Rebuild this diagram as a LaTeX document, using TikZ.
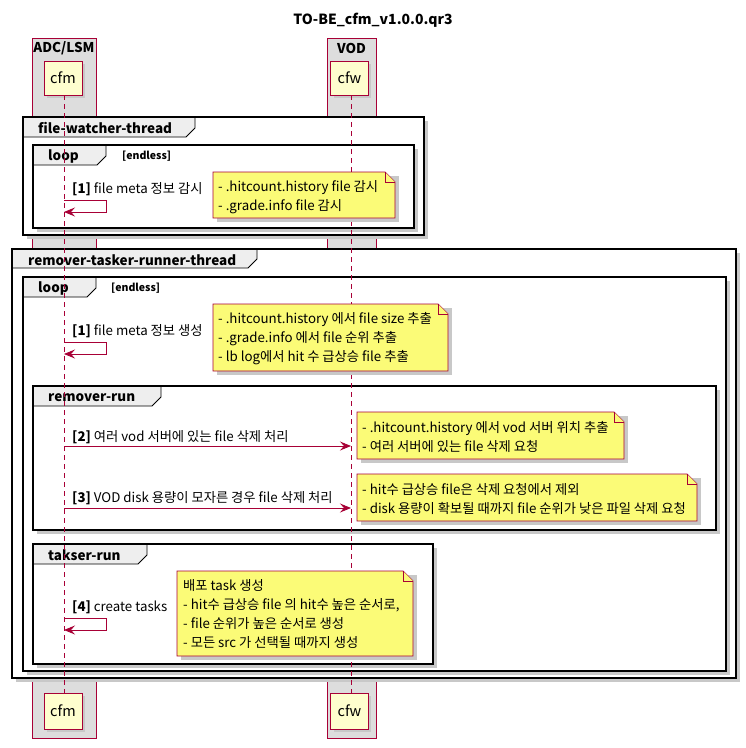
\documentclass[tikz,border=0pt]{standalone}
\usepackage{fontspec}
\setmainfont{Noto Sans CJK KR}
\usetikzlibrary{arrows.meta}
\definecolor{crim}{HTML}{A80036}
\definecolor{partfill}{HTML}{FEFECE}
\definecolor{notefill}{HTML}{FBFB77}
\definecolor{grpfill}{HTML}{DDDDDD}
\definecolor{tabfill}{HTML}{EEEEEE}
\definecolor{shadowc}{HTML}{C8C8C8}
\tikzset{
  grp/.style={fill=grpfill,draw=crim,line width=0.8pt},
  grplabel/.style={font=\fontsize{13.5}{15}\selectfont\bfseries,inner sep=0pt},
  part/.style={draw=crim,fill=partfill,line width=1pt,minimum width=38pt,minimum height=34pt,inner sep=0pt,font=\fontsize{14.5}{16}\selectfont},
  frm/.style={draw=black,line width=1.6pt},
  tabst/.style={fill=tabfill,draw=black,line width=0.8pt},
  frmlabel/.style={font=\fontsize{13.5}{15}\selectfont\bfseries,inner sep=0pt,anchor=west},
  guard/.style={font=\fontsize{10.5}{12}\selectfont\bfseries,inner sep=0pt,anchor=west},
  life/.style={draw=crim,line width=0.7pt,dash pattern=on 5pt off 4pt},
  msg/.style={draw=crim,line width=0.9pt,-{Stealth[length=11pt,width=9pt,inset=4pt]}},
  msglabel/.style={font=\fontsize{13.3}{15}\selectfont,inner sep=0pt,anchor=west},
  notest/.style={fill=notefill,draw=crim,line width=0.8pt},
  notetext/.style={font=\fontsize{13.3}{19}\selectfont,inner sep=0pt,anchor=west,align=left},
  shd/.style={fill=shadowc}
}
\newcommand{\umlframe}[6]{%
  \fill[shd] (#1+4,#2+4) rectangle (#3+4,#4+4);
  \fill[white] (#1,#2) rectangle (#3,#4);
  \draw[tabst] (#1,#2) -- (#5,#2) -- (#5,#6-9) -- (#5-9,#6) -- (#1,#6) -- cycle;
  \draw[frm] (#1,#2) rectangle (#3,#4);
}
\newcommand{\umlnote}[4]{%
  \fill[shd] (#1+4,#2+4) rectangle (#3+4,#4+4);
  \draw[notest] (#1,#2) -- (#3-10,#2) -- (#3,#2+10) -- (#3,#4) -- (#1,#4) -- cycle;
  \draw[notest] (#3-10,#2) -- (#3-10,#2+10) -- (#3,#2+10);
}
\begin{document}
\begin{tikzpicture}[x=1pt,y=-1pt]
\useasboundingbox (0,0) rectangle (746,748);
\fill[white] (0,0) rectangle (746,748);
% title
\node[font=\fontsize{14}{16}\selectfont\bfseries,inner sep=0pt] (title) at (373,20) {TO-BE\_cfm\_v1.0.0.qr3};
% groups
\draw[grp] (32,38) rectangle (96,738);
\draw[grp] (327,38) rectangle (376,738);
\node[grplabel] (g1) at (64,48) {ADC/LSM};
\node[grplabel] (g2) at (351.5,48) {VOD};
% participants
\fill[shd] (47,64) rectangle (85,98);
\fill[shd] (334,64) rectangle (371,98);
\fill[shd] (47,696) rectangle (85,732);
\fill[shd] (334,696) rectangle (371,732);
\node[part] (cfmT) at (63,78) {cfm};
\node[part] (cfwT) at (349.5,78) {cfw};
\node[part,minimum height=36pt] (cfmB) at (63,711) {cfm};
\node[part,minimum height=36pt] (cfwB) at (349.5,711) {cfw};
% frames
\umlframe{23}{117}{424}{235}{195}{137}
\node[frmlabel] (f1) at (38,127.5) {file-watcher-thread};
\umlframe{33}{145}{414}{228}{106}{165}
\node[frmlabel] (l1) at (48,156) {loop};
\node[guard] (l1g) at (122,156) {[endless]};
\umlframe{12}{249}{736}{678}{257}{268}
\node[frmlabel] (f2) at (28,260) {remover-tasker-runner-thread};
\umlframe{23}{277}{726}{671}{96}{297}
\node[frmlabel] (l2) at (38,288) {loop};
\node[guard] (l2g) at (111,288) {[endless]};
\umlframe{33}{386}{716}{530}{161}{406}
\node[frmlabel] (r1) at (48,397.5) {remover-run};
\umlframe{33}{544}{433}{664}{147}{564}
\node[frmlabel] (t1) at (48,555.5) {takser-run};
% lifelines
\coordinate (cfmL) at (64,95);
\coordinate (cfwL) at (351,95);
\draw[life] (cfmL) -- (64,693);
\draw[life] (cfwL) -- (351,693);
% message 1 (file watcher)
\node[msglabel] (m1) at (72,189) {\textbf{[1]} file meta 정보 감시};
\coordinate (m1a) at (64,200); \coordinate (m1b) at (106,200);
\coordinate (m1c) at (106,212); \coordinate (m1d) at (64,212);
\draw[msg] (m1a) -- (m1b) -- (m1c) -- (m1d);
\umlnote{213}{172}{395}{218}
\node[notetext] (n1) at (218,197.5) {- .hitcount.history file 감시\\- .grade.info file 감시};
% message 1 (remover)
\node[msglabel] (m2) at (72,331) {\textbf{[1]} file meta 정보 생성};
\coordinate (m2a) at (64,342); \coordinate (m2b) at (106,342);
\coordinate (m2c) at (106,354); \coordinate (m2d) at (64,354);
\draw[msg] (m2a) -- (m2b) -- (m2c) -- (m2d);
\umlnote{213}{304}{448}{371}
\node[notetext] (n2) at (218,338.5) {- .hitcount.history 에서 file size 추출\\- .grade.info 에서 file 순위 추출\\- lb log에서 hit 수 급상승 file 추출};
% message 2
\node[msglabel] (m3) at (72,437) {\textbf{[2]} 여러 vod 서버에 있는 file 삭제 처리};
\coordinate (m3a) at (64,446); \coordinate (m3b) at (351,446);
\draw[msg] (m3a) -- (m3b);
\umlnote{357}{412}{624}{459}
\node[notetext] (n3) at (362,436.5) {- .hitcount.history 에서 vod 서버 위치 추출\\- 여러 서버에 있는 file 삭제 요청};
% message 3
\node[msglabel] (m4) at (72,498) {\textbf{[3]} VOD disk 용량이 모자른 경우 file 삭제 처리};
\coordinate (m4a) at (64,508); \coordinate (m4b) at (351,508);
\draw[msg] (m4a) -- (m4b);
\umlnote{357}{474}{697}{521}
\node[notetext] (n4) at (362,498.5) {- hit수 급상승 file은 삭제 요청에서 제외\\- disk 용량이 확보될 때까지 file 순위가 낮은 파일 삭제 요청};
% message 4
\node[msglabel] (m5) at (72,607) {\textbf{[4]} create tasks};
\coordinate (m5a) at (64,618); \coordinate (m5b) at (106,618);
\coordinate (m5c) at (106,630); \coordinate (m5d) at (64,630);
\draw[msg] (m5a) -- (m5b) -- (m5c) -- (m5d);
\umlnote{177}{571}{413}{656}
\node[notetext] (n5) at (183,614.5) {배포 task 생성\\- hit수 급상승 file 의 hit수 높은 순서로,\\- file 순위가 높은 순서로 생성\\- 모든 src 가 선택될 때까지 생성};
\end{tikzpicture}
\end{document}
